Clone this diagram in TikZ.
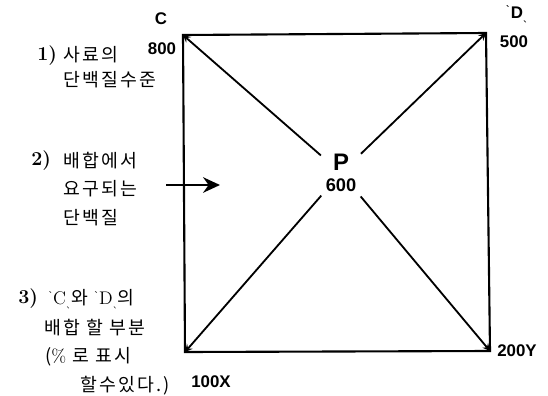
\documentclass[tikz,border=0pt]{standalone}
\usepackage{fontspec}
\newfontfamily\kr[LetterSpace=12]{Noto Sans CJK KR}
\newfontfamily\lab{Liberation Sans}
\newfontfamily\mk{DejaVu Sans}
\usetikzlibrary{arrows,arrows.meta,positioning}
\tikzset{corner/.style={font=\lab\bfseries\fontsize{12}{14}\selectfont, inner sep=1pt},
  note/.style={font=\kr\fontsize{13}{15}\selectfont, anchor=west, inner sep=0pt},
  num/.style={font=\bfseries\fontsize{14}{16}\selectfont, anchor=west, inner sep=0pt}}
\newcommand{\qm}[1]{{\mk\fontsize{7}{8}\selectfont\raisebox{.9ex}{ˋ}}{#1}{\mk\fontsize{7}{8}\selectfont\raisebox{-.3ex}{ˎ}}}

\begin{document}
\begin{tikzpicture}[>=stealth, x=0.025cm, y=-0.025cm]
\useasboundingbox (0,0) rectangle (548,396);
% square corners
\coordinate (C) at (183,35);
\coordinate (D) at (486,33);
\coordinate (X) at (185,352);
\coordinate (Y) at (490,351);
\draw[line width=1.5pt] (C) -- (D) -- (Y) -- (X) -- cycle;

\node[corner, font=\lab\bfseries\fontsize{17}{18}\selectfont, align=center] (P) at (341,173) {P\\[-3pt]{\fontsize{13}{14}\selectfont 600}};
\path[->, line width=1.3pt, shorten <=3pt] (P) edge (C) edge (D) edge (X) edge (Y);

\node[corner] (lc) at (161,19) {C};
\node[corner] (l800) at (162,49) {800};
\node[corner] (ld) at (517,14) {\qm{D}};
\node[corner] (l500) at (514,42) {500};
\node[corner] (l100) at (211,382) {100X};
\node[corner] (l200) at (517,351) {200Y};

% notes
\node[num] (n1) at (37,56) {1)};
\node[note] (n1a) at (63,55) {사료의};
\node[note] (n1b) at (63,80) {단백질수준};

\node[num] (n2) at (31,161) {2)};
\node[note] (n2a) at (63,161) {배합에서};
\node[note] (n2b) at (63,189) {요구되는};
\node[note] (n2c) at (63,218) {단백질};

\node[num] (n3) at (18,299) {3)};
\node[note] (n3a) at (48,299) {\qm{\rmfamily C}와 \qm{\rmfamily D}의};
\node[note] (n3b) at (44,328) {배합 할 부분};
\node[note] (n3c) at (45,357) {({\rmfamily\%} 로 표시};
\node[note] (n3d) at (80,386) {할수있다.)};

\coordinate (a1) at (166,185);
\coordinate (a2) at (220,185);
\draw[-{Stealth[length=12pt,width=11pt]}, line width=1.8pt] (a1) -- (a2);
\end{tikzpicture}
\end{document}
